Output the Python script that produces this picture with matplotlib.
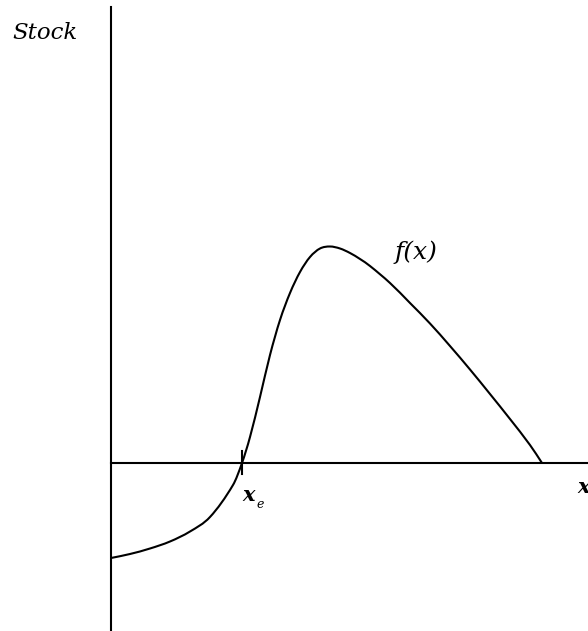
"""Stock curve f(x) sketch with equilibrium point x_e."""

import matplotlib
matplotlib.use("Agg")
import matplotlib.pyplot as plt
from matplotlib.path import Path
from matplotlib.patches import PathPatch

# curve (pixel-like coordinates, y grows downward)
curve_x = [111, 130, 150, 170, 190, 210, 233, 242, 250, 260, 270, 280,
           290, 300, 310, 320, 330, 340, 350, 360, 370, 390, 410, 430, 450,
           470, 490, 510, 530, 542]
curve_y = [558, 554, 548.5, 541.5, 531.5, 517, 485, 463, 437, 397, 355,
           320, 293, 272, 257, 248.5, 246.5, 248.5, 253, 259, 266, 283, 303,
           323.5, 346, 369.5, 394, 419, 445, 463]

axis_origin = (111, 463)
x_eq = 242

labels = {
    "y_label": "Stock",
    "curve": "f(x)",
    "x_label": "x",
    "eq": "x",
    "eq_sub": "e",
}


def smooth_path(xs, ys):
    # cubic hermite segments (bezier form) through the traced points
    n = len(xs)
    slopes = []
    for i in range(n):
        a = max(i - 1, 0)
        b = min(i + 1, n - 1)
        slopes.append((ys[b] - ys[a]) / (xs[b] - xs[a]))
    verts = [(xs[0], ys[0])]
    codes = [Path.MOVETO]
    for i in range(n - 1):
        h = xs[i + 1] - xs[i]
        c1 = (xs[i] + h / 3, ys[i] + slopes[i] * h / 3)
        c2 = (xs[i + 1] - h / 3, ys[i + 1] - slopes[i + 1] * h / 3)
        verts += [c1, c2, (xs[i + 1], ys[i + 1])]
        codes += [Path.CURVE4] * 3
    return Path(verts, codes)


fig = plt.figure(figsize=(5.88, 6.31), dpi=100)
ax = fig.add_axes([0, 0, 1, 1])
ax.set_xlim(0, 588)
ax.set_ylim(631, 0)
ax.axis("off")

lw = 1.5
# axes
ax.plot([axis_origin[0], axis_origin[0]], [7, 631], color="black", lw=lw)
ax.plot([axis_origin[0], 588], [axis_origin[1], axis_origin[1]], color="black", lw=lw)
# tick at x_e
ax.plot([x_eq, x_eq], [451, 474], color="black", lw=lw)

# curve
ax.add_patch(PathPatch(smooth_path(curve_x, curve_y), facecolor="none",
                       edgecolor="black", lw=lw))

font = dict(family="DejaVu Serif", style="italic", color="black")
ax.text(45, 33, labels["y_label"], fontsize=16.5, ha="center", va="center", **font)
ax.text(416, 252, labels["curve"], fontsize=18, ha="center", va="center", **font)
ax.text(249, 495, labels["eq"], fontsize=15, ha="center", va="center",
        fontweight="bold", **font)
ax.text(260, 505, labels["eq_sub"], fontsize=9, ha="center", va="center", **font)
ax.text(577, 487, labels["x_label"], fontsize=15, ha="left", va="center",
        fontweight="bold", **font)

fig.savefig("out.png", dpi=100)
plt.close(fig)
